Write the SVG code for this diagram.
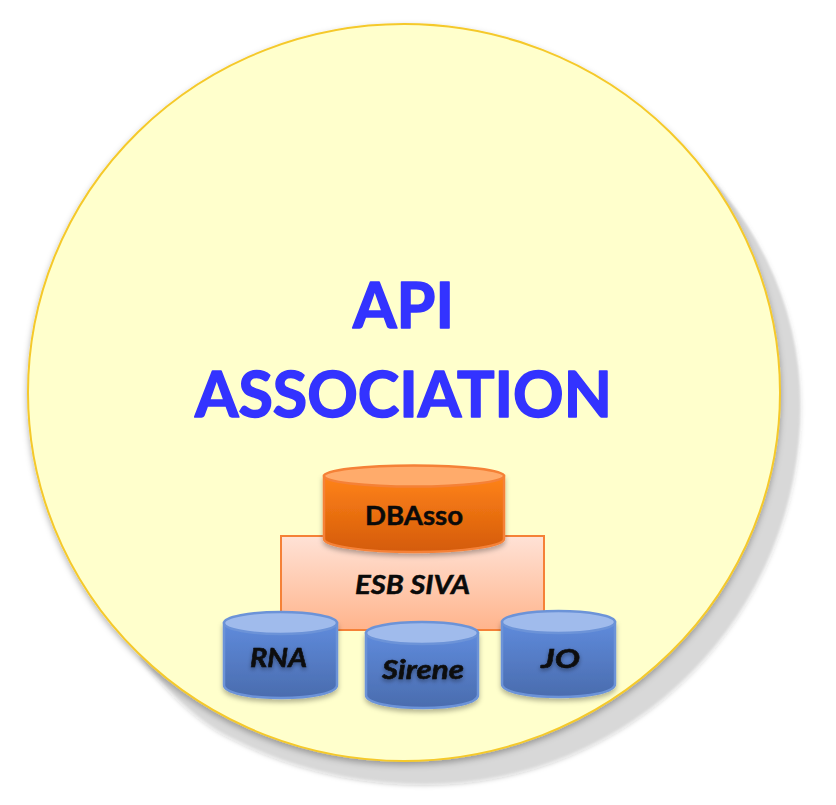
<svg xmlns="http://www.w3.org/2000/svg" width="836" height="805" viewBox="0 0 836 805">
<style>
text{font-family:"Lato","Open Sans","Liberation Sans",sans-serif;text-anchor:middle;fill:#0a0a0a;font-weight:700;stroke:#0a0a0a;stroke-width:.5}
.t{font-size:64px;fill:#3333ff;stroke:#3333ff;stroke-width:1.6;stroke-linejoin:round}
.n{font-size:27px}
.i{font-style:italic;filter:url(#ts)}
.blue{stroke:#6c93d8;stroke-width:2.5}
</style>
<defs>
<linearGradient id="org" x1="0" y1="0" x2="0" y2="1"><stop offset="0" stop-color="#ff8318"/><stop offset="1" stop-color="#d45b0a"/></linearGradient>
<linearGradient id="pch" x1="0" y1="0" x2="0" y2="1"><stop offset="0" stop-color="#ffe2d6"/><stop offset="1" stop-color="#ffb48c"/></linearGradient>
<linearGradient id="blu" x1="0" y1="0" x2="0" y2="1"><stop offset="0" stop-color="#5f8bdc"/><stop offset="1" stop-color="#4a6cae"/></linearGradient>
<filter id="gs" x="-5%" y="-5%" width="110%" height="110%"><feGaussianBlur stdDeviation="0.8"/><feDropShadow dx="0" dy="2" stdDeviation="2" flood-color="#000" flood-opacity=".25"/></filter>
<filter id="ms" x="-5%" y="-5%" width="110%" height="110%"><feDropShadow dx="0" dy="3" stdDeviation="3" flood-color="#000" flood-opacity=".3"/></filter>
<filter id="ds" x="-15%" y="-15%" width="130%" height="135%"><feDropShadow dx="0" dy="3" stdDeviation="2.5" flood-color="#000" flood-opacity=".3"/></filter>
<filter id="ts" x="-15%" y="-20%" width="130%" height="150%"><feDropShadow dx="0" dy="2" stdDeviation="2" flood-color="#000" flood-opacity=".4"/></filter>
</defs>
<g id="circle">
<path d="M670 140A375 350 0 0 1 800 405A375 378 0 0 1 425 783A405 378 0 0 1 230 736C205 724 170 695 140 655L404 392Z" fill="#d8d8d8" filter="url(#gs)"/>
<ellipse cx="404" cy="392.500" rx="376" ry="368.500" fill="#ffffcc" stroke="#f5c92b" stroke-width="2" filter="url(#ms)"/>
<text class="t" x="403.500" y="328" textLength="101" lengthAdjust="spacingAndGlyphs">API</text>
<text class="t" x="403.500" y="417" textLength="417" lengthAdjust="spacingAndGlyphs">ASSOCIATION</text>
</g>
<g id="esb">
<rect x="281" y="536" width="263" height="94" fill="url(#pch)" stroke="#f58137" stroke-width="2"/>
<text class="n" x="412.500" y="594" style="font-style:italic" textLength="115" lengthAdjust="spacingAndGlyphs">ESB SIVA</text>
</g>
<g id="dbasso">
<path d="M324 476V539C324 546 364 552 414 552S504 546 504 539V476Z" fill="url(#org)" stroke="#f58137" stroke-width="2.5" filter="url(#ds)"/>
<ellipse cx="414" cy="476" rx="90" ry="10.500" fill="#ffab6b" stroke="#f58137" stroke-width="2.500"/>
<text class="n" x="414" y="525" textLength="98" lengthAdjust="spacingAndGlyphs">DBAsso</text>
</g>
<g id="rna">
<path d="M224 623V685C224 693 250 698 281 698S337 693 337 685V623Z" fill="url(#blu)" class="blue" filter="url(#ds)"/>
<ellipse cx="280.500" cy="623" rx="56.500" ry="11" fill="#a0bbec" class="blue"/>
<text class="n i" x="278.500" y="667" textLength="57" lengthAdjust="spacingAndGlyphs">RNA</text>
</g>
<g id="sirene">
<path d="M366 633V695C366 703 392 708 423 708S478 703 478 695V633Z" fill="url(#blu)" class="blue" filter="url(#ds)"/>
<ellipse cx="422" cy="633" rx="56" ry="11" fill="#a0bbec" class="blue"/>
<text class="n i" x="423" y="679" textLength="82" lengthAdjust="spacingAndGlyphs">Sirene</text>
</g>
<g id="jo">
<path d="M502 622V684C502 692 528 697 559 697S615 692 615 684V622Z" fill="url(#blu)" class="blue" filter="url(#ds)"/>
<ellipse cx="558.500" cy="622" rx="56.500" ry="11" fill="#a0bbec" class="blue"/>
<text class="n i" x="560.500" y="668" textLength="39" lengthAdjust="spacingAndGlyphs">JO</text>
</g>
<g id="connectors"/>
</svg>
